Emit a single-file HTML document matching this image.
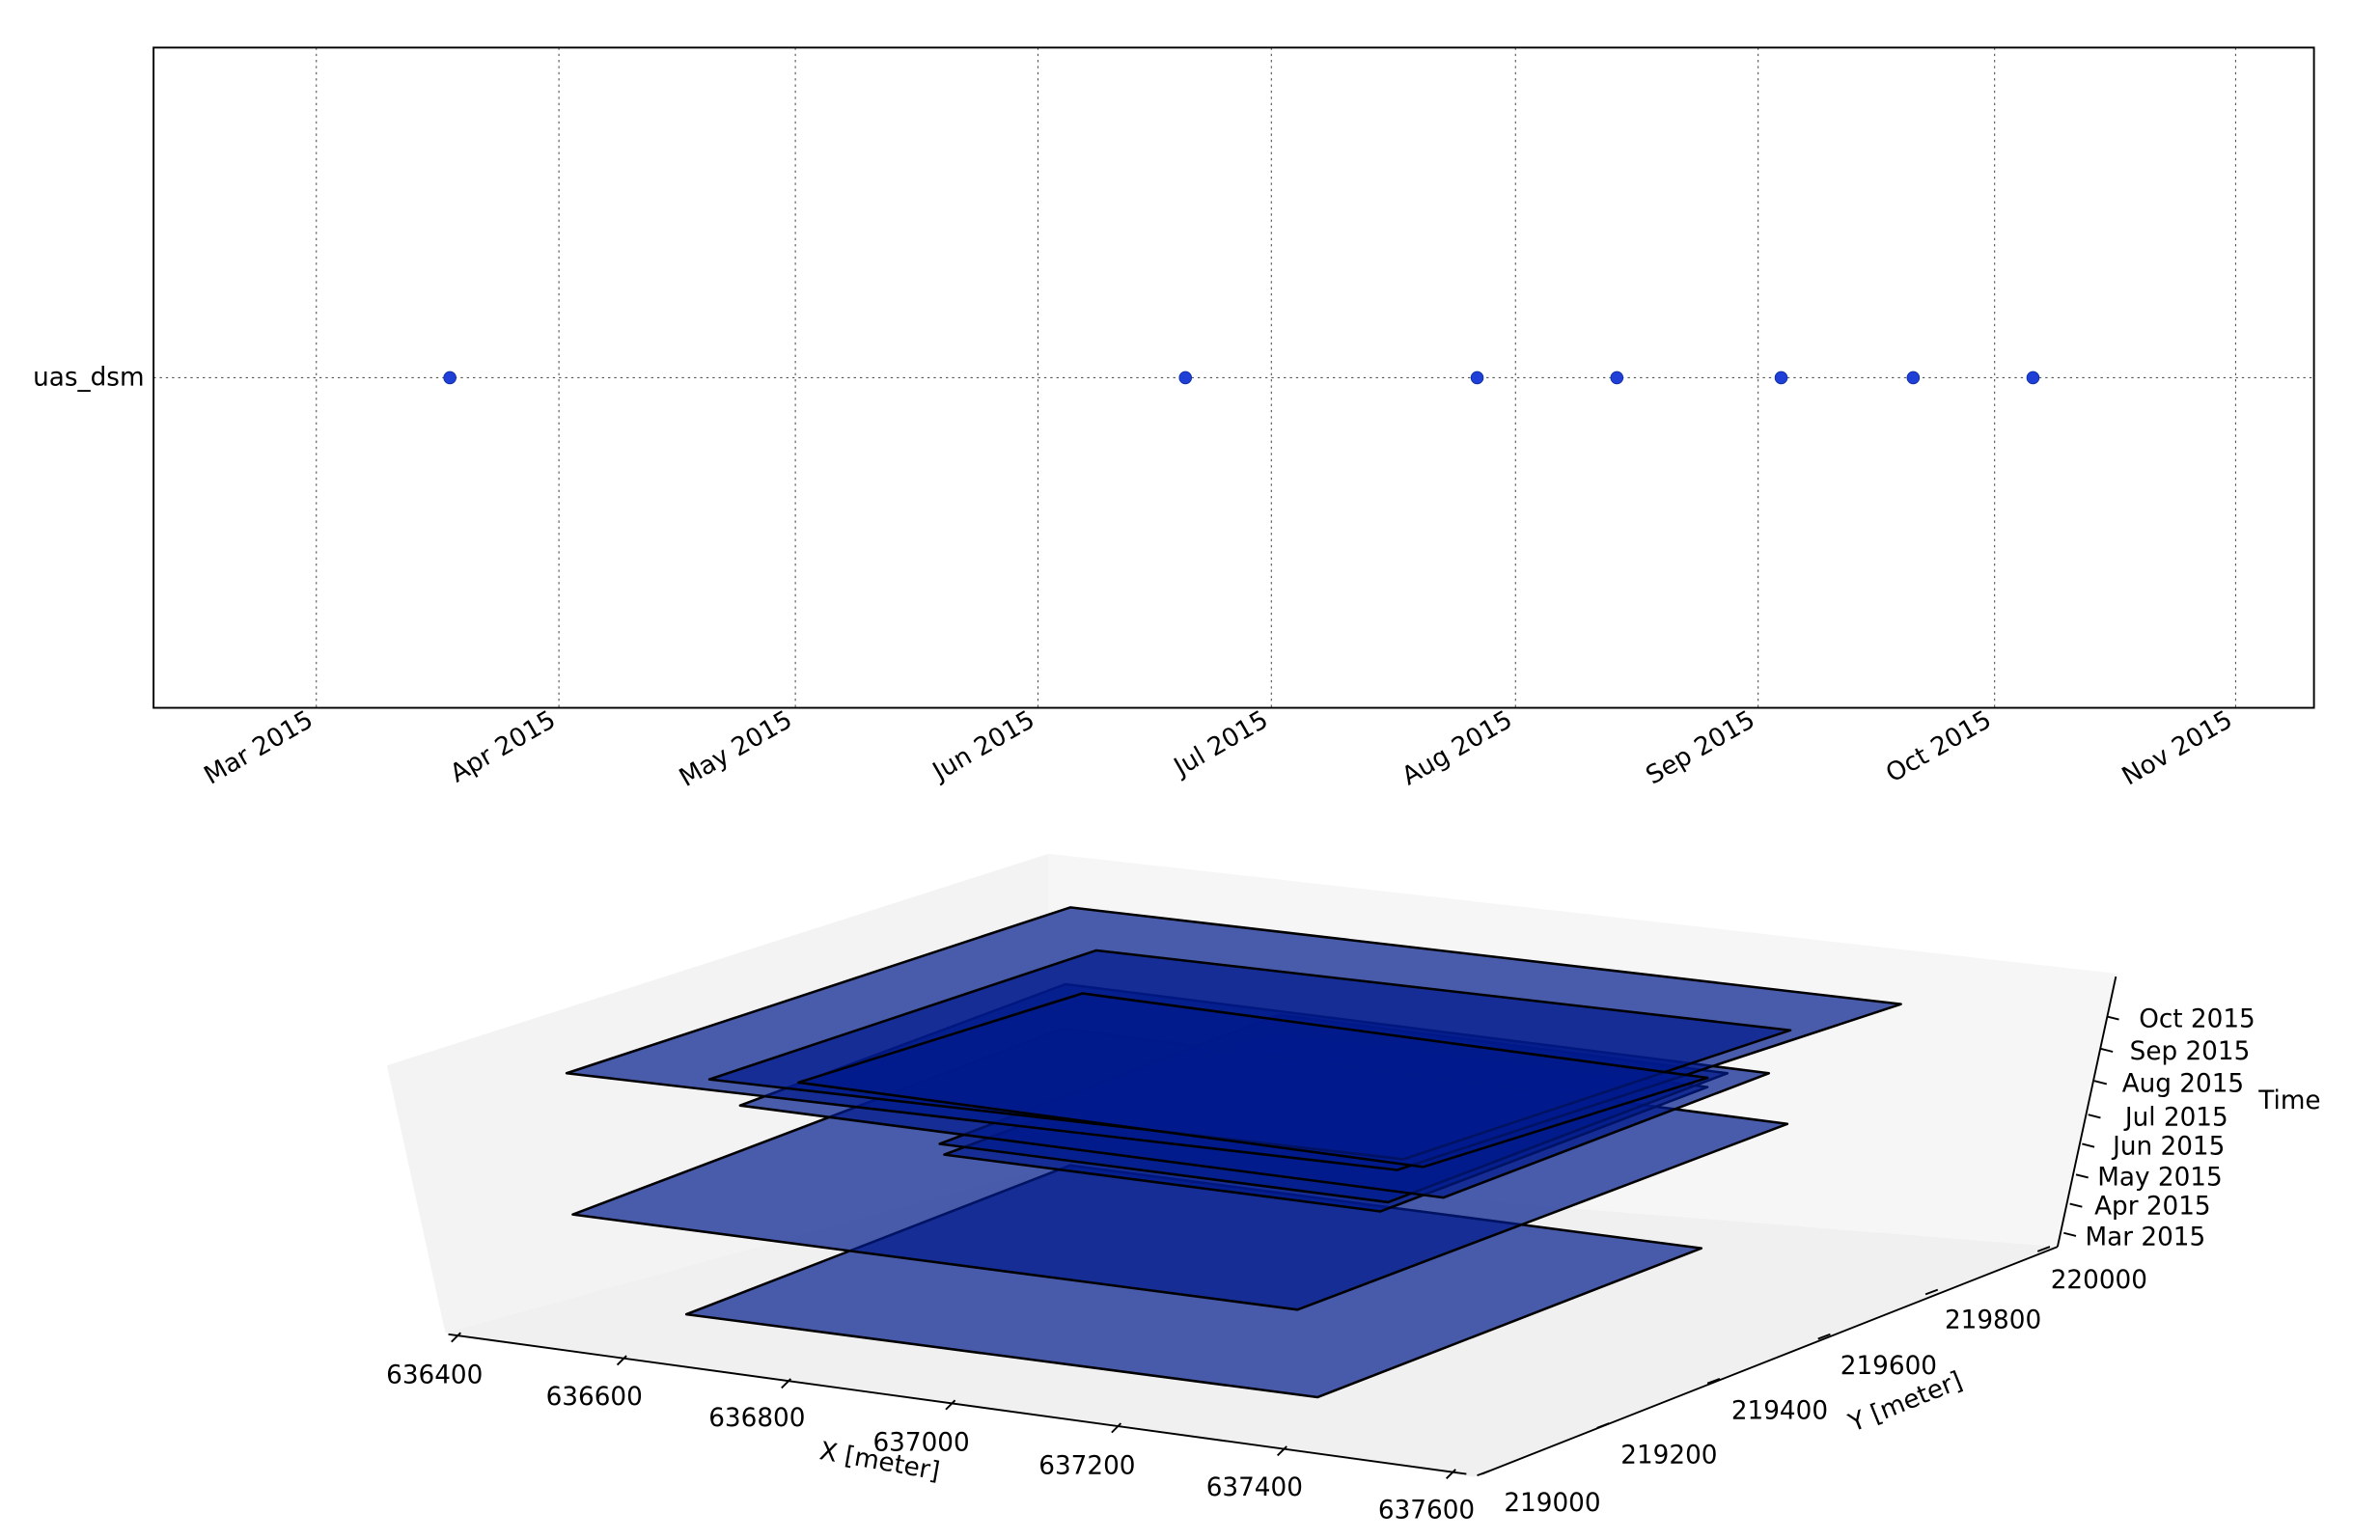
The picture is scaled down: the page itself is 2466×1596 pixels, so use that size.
<!DOCTYPE html>
<html><head><meta charset="utf-8"><style>
html,body{margin:0;padding:0;background:#fff;width:2466px;height:1596px;overflow:hidden}
svg{display:block}
text{font-family:"DejaVu Sans","Liberation Sans",sans-serif;font-size:16.5px;fill:#000}
</style></head><body>
<svg width="2466" height="1596" viewBox="0 0 1550 1003" preserveAspectRatio="none" xmlns="http://www.w3.org/2000/svg">
<g stroke="#555" stroke-width="0.7" stroke-dasharray="1.5,2.5">
<line x1="206" y1="31" x2="206" y2="461"/><line x1="364" y1="31" x2="364" y2="461"/>
<line x1="518" y1="31" x2="518" y2="461"/><line x1="676" y1="31" x2="676" y2="461"/>
<line x1="828" y1="31" x2="828" y2="461"/><line x1="987" y1="31" x2="987" y2="461"/>
<line x1="1145" y1="31" x2="1145" y2="461"/><line x1="1299" y1="31" x2="1299" y2="461"/>
<line x1="1456" y1="31" x2="1456" y2="461"/>
<line x1="100" y1="246" x2="1507" y2="246"/>
</g>
<rect x="100" y="31" width="1407" height="430" fill="none" stroke="#000" stroke-width="1.2"/>
<g fill="#1f3fd6" stroke="#0a2aa0" stroke-width="0.5">
<circle cx="293" cy="246" r="4"/><circle cx="772" cy="246" r="4"/><circle cx="962" cy="246" r="4"/>
<circle cx="1053" cy="246" r="4"/><circle cx="1160" cy="246" r="4"/><circle cx="1246" cy="246" r="4"/>
<circle cx="1324" cy="246" r="4"/>
</g>
<text x="94" y="251" text-anchor="end">uas_dsm</text>
<g text-anchor="end">
<text transform="translate(205,472) rotate(-30)">Mar 2015</text>
<text transform="translate(363,472) rotate(-30)">Apr 2015</text>
<text transform="translate(517,472) rotate(-30)">May 2015</text>
<text transform="translate(675,472) rotate(-30)">Jun 2015</text>
<text transform="translate(827,472) rotate(-30)">Jul 2015</text>
<text transform="translate(986,472) rotate(-30)">Aug 2015</text>
<text transform="translate(1144,472) rotate(-30)">Sep 2015</text>
<text transform="translate(1298,472) rotate(-30)">Oct 2015</text>
<text transform="translate(1455,472) rotate(-30)">Nov 2015</text>
</g>
<polygon points="252,694 683,556 683,760 290,868" fill="#f3f3f3"/>
<polygon points="683,556 1378,634 1340,812 683,760" fill="#f6f6f6"/>
<polygon points="290,868 683,760 1340,812 960,962" fill="#f0f0f0"/>
<g fill="#001a8c" fill-opacity="0.7" stroke="#000" stroke-width="1.6" stroke-linejoin="round">
<polygon points="447,856 697,759 1108,813 858,910"/>
<polygon points="373,791 692,670 1164,732 845,853"/>
<polygon points="615,752 828,672 1112,708 899,789"/>
<polygon points="612,745 833,661 1125,699 904,783"/>
<polygon points="482,720 694,641 1152,699 940,780"/>
<polygon points="369,699 697,591 1238,654 910,762"/>
<polygon points="462,703 714,619 1166,671 914,755"/>
<polygon points="520,705 705,647 1112,702 927,760"/>
</g>
<g stroke="#000" stroke-width="1.2" fill="none">
<line x1="292" y1="869" x2="955" y2="960"/>
<line x1="965" y1="960" x2="1340" y2="812"/>
<line x1="1340" y1="812" x2="1378" y2="636"/>
<path d="M300,868l-6,6 M408,883l-6,6 M515,898l-6,6 M622,912l-6,6 M730,927l-6,6 M838,942l-6,6 M948,957l-6,6"/>
<path d="M970,958l-8,3 M1048,927l-8,3 M1120,898l-8,3 M1192,869l-8,3 M1262,840l-8,3 M1335,812l-8,3"/>
<path d="M1344,803l8,2 M1348,784l8,2 M1352,765l8,2 M1356,745l8,2 M1360,726l8,2 M1364,704l8,2 M1368,683l8,2 M1372,662l8,2"/>
</g>
<text x="283" y="901" text-anchor="middle">636400</text>
<text x="387" y="915" text-anchor="middle">636600</text>
<text x="493" y="929" text-anchor="middle">636800</text>
<text x="600" y="945" text-anchor="middle">637000</text>
<text x="708" y="960" text-anchor="middle">637200</text>
<text x="817" y="974" text-anchor="middle">637400</text>
<text x="929" y="989" text-anchor="middle">637600</text>
<text transform="translate(572,957) rotate(10)" text-anchor="middle">X [meter]</text>
<text x="1011" y="984" text-anchor="middle">219000</text>
<text x="1087" y="953" text-anchor="middle">219200</text>
<text x="1159" y="924" text-anchor="middle">219400</text>
<text x="1230" y="895" text-anchor="middle">219600</text>
<text x="1298" y="865" text-anchor="middle">219800</text>
<text x="1367" y="839" text-anchor="middle">220000</text>
<text transform="translate(1243,918) rotate(-22)" text-anchor="middle">Y [meter]</text>
<text x="1358" y="811">Mar 2015</text>
<text x="1364" y="791">Apr 2015</text>
<text x="1366" y="772">May 2015</text>
<text x="1376" y="752">Jun 2015</text>
<text x="1384" y="733">Jul 2015</text>
<text x="1382" y="711">Aug 2015</text>
<text x="1387" y="690">Sep 2015</text>
<text x="1393" y="669">Oct 2015</text>
<text x="1471" y="722">Time</text>
</svg>
</body></html>
